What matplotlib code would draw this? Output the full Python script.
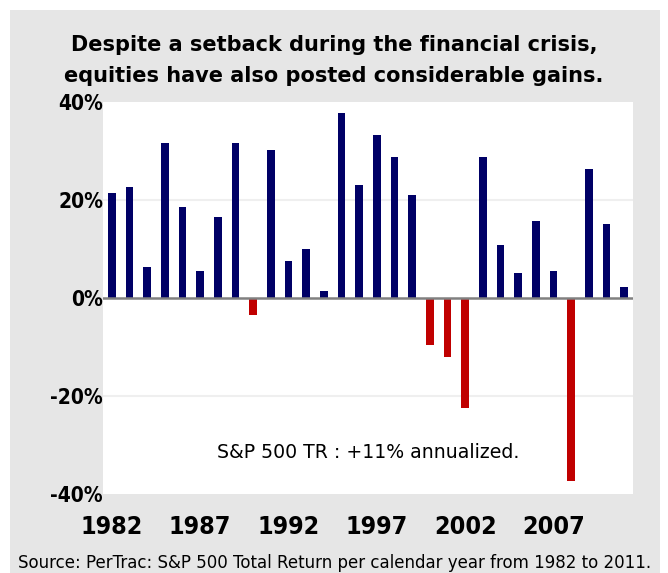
import matplotlib.pyplot as plt
from matplotlib.patches import Rectangle
import numpy as np

years = list(range(1982, 2012))
returns = [21.4, 22.6, 6.3, 31.6, 18.5, 5.5, 16.5, 31.6, -3.5, 30.3,
           7.5, 9.9, 1.4, 37.7, 23.1, 33.3, 28.7, 21.0, -9.6, -12.0,
           -22.5, 28.7, 10.8, 5.1, 15.7, 5.5, -37.3, 26.3, 15.2, 2.2]
ytick_vals = [-40, -20, 0, 20, 40]
xtick_years = [1982, 1987, 1992, 1997, 2002, 2007]

navy = '#000066'
red = '#C00000'

fig = plt.figure(figsize=(6.68, 5.73), dpi=100)
# grey panel behind everything
fig.patches.append(Rectangle((10/668, 0), 650/668, 563/573, transform=fig.transFigure,
                             facecolor='#E6E6E6', edgecolor='none', zorder=-10))

ax = fig.add_axes([103/668, 1 - 494/573, 530/668, 392/573])
ax.set_facecolor('white')

x = np.arange(len(years))
colors = [navy if v >= 0 else red for v in returns]
ax.bar(x, returns, width=0.45, color=colors, edgecolor='none', zorder=3)

ax.set_xlim(-0.5, len(years) - 0.5)
ax.set_ylim(-40, 40)
for v in [20, -20]:
    ax.axhline(v, color='#EFEFEF', lw=1.5, zorder=1)
ax.axhline(0, color='#808080', lw=1.8, zorder=4)

for s in ax.spines.values():
    s.set_visible(False)
ax.tick_params(length=0)
ax.set_yticks(ytick_vals)
ax.set_yticklabels(['%d%%' % v for v in ytick_vals], family='DejaVu Sans',
                   fontstretch='condensed', fontweight='bold', fontsize=15)
ax.tick_params(axis='y', pad=0)
ax.set_xticks([years.index(y) for y in xtick_years])
ax.set_xticklabels([str(y) for y in xtick_years], family='DejaVu Sans',
                   fontstretch='condensed', fontweight='bold', fontsize=18)
ax.tick_params(axis='x', pad=15)

ax.text(0.5, 0.107, 'S&P 500 TR : +11% annualized.', transform=ax.transAxes,
        ha='center', va='center', fontsize=13.6, family='DejaVu Sans')

fig.text(0.5, 1 - 45/573, 'Despite a setback during the financial crisis,',
         ha='center', va='center', fontsize=15, fontweight='bold')
fig.text(0.5, 1 - 76/573, 'equities have also posted considerable gains.',
         ha='center', va='center', fontsize=15, fontweight='bold')
fig.text(335/668, 1 - 563/573,
         'Source: PerTrac: S&P 500 Total Return per calendar year from 1982 to 2011.',
         ha='center', va='center', fontsize=12)

fig.savefig('out.png', dpi=100, facecolor='white')
